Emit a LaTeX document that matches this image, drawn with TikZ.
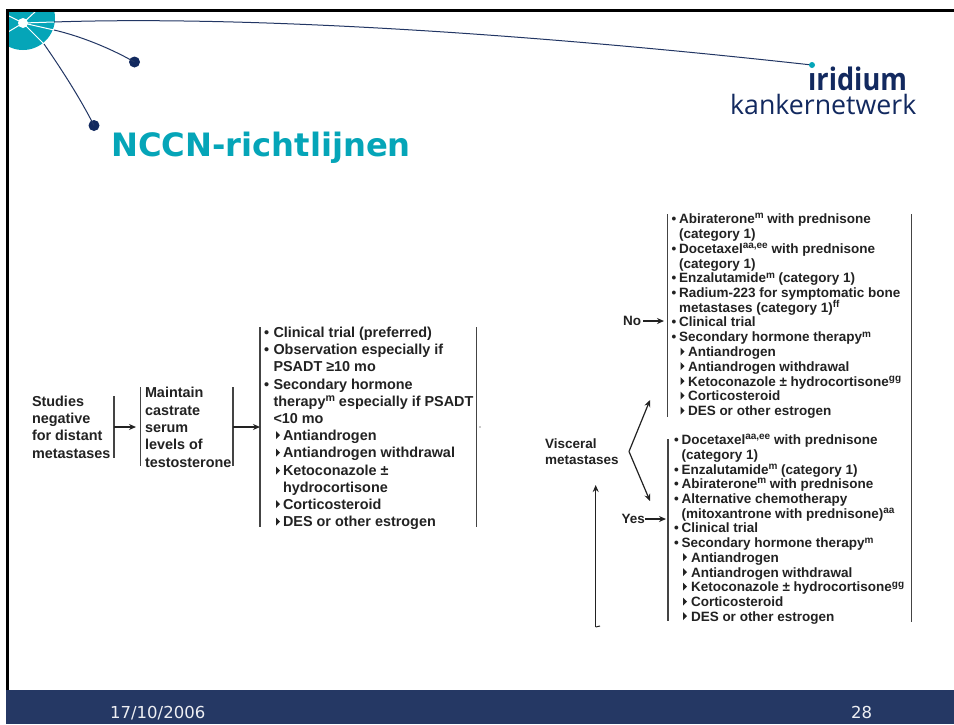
\documentclass[tikz,border=0pt]{standalone}
\usepackage{fontspec}
\setmainfont{Liberation Sans}
\newfontfamily\titlefont{DejaVu Sans}
\newfontfamily\logofont{Open Sans}
\usetikzlibrary{arrows.meta}
\definecolor{teal1}{HTML}{05A5B8}
\definecolor{navy1}{HTML}{12295F}
\definecolor{foot}{HTML}{253864}
\definecolor{ink}{HTML}{222222}
\definecolor{bar}{HTML}{444444}
\newcounter{tn}
\tikzset{
  lbl/.style={anchor=base west,inner sep=0pt,outer sep=0pt,text=ink,font=\fontsize{13.5}{15}\selectfont\bfseries},
  lblbig/.style={lbl,font=\fontsize{14.4}{16}\selectfont\bfseries},
  barline/.style={draw=bar,line width=1.5pt},
  flow/.style={draw=ink,line width=1.2pt,-{Stealth[length=7pt,width=6pt]}},
  curve/.style={draw=navy1!85!gray,line width=1pt},
  spoke/.style={draw=white,line width=1pt},
  foottext/.style={anchor=base west,inner sep=0pt,text=white!92!foot,font=\titlefont\fontsize{16.5}{18}\selectfont}
}
\newcommand{\tl}[3]{\stepcounter{tn}\node[lbl] (t\arabic{tn}) at (#1,#2) {#3};}
\newcommand{\tb}[3]{\stepcounter{tn}\node[lblbig] (t\arabic{tn}) at (#1,#2) {#3};}
% bullet item: bullet x, text x, baseline, text
\newcommand{\bi}[4]{\tl{#1}{#3}{•}\tl{#2}{#3}{#4}}
\newcommand{\bb}[4]{\tb{#1}{#3}{•}\tb{#2}{#3}{#4}}
% sub item: triangle x, text x, baseline, text
\newcommand{\si}[4]{\fill[ink] (#1,#3-9) -- (#1+4,#3-5) -- (#1,#3-1) -- cycle;\tl{#2}{#3}{#4}}
\newcommand{\sib}[4]{\fill[ink] (#1,#3-9) -- (#1+4,#3-5) -- (#1,#3-1) -- cycle;\tb{#2}{#3}{#4}}
\newcommand{\sps}[1]{\raisebox{0.32em}{\scalebox{.74}{#1}}}
\begin{document}
\begin{tikzpicture}[x=1pt,y=-1pt]
\useasboundingbox (0,0) rectangle (954,724);
\fill[white] (0,0) rectangle (954,724);
% footer
\fill[foot] (6,690) rectangle (954,724);
\node[foottext] (date) at (110,718) {17/10/2006};
\node[foottext] (page) at (851,718) {28};
% decoration
\begin{scope}
\clip (7,10) rectangle (60,60);
\fill[teal1] (23,18) circle (32);
\foreach \a/\b in {54/22,54/30,44/44,8/32,36/11,7/15}{\draw[spoke] (23,23) -- (\a,\b);}
\fill[white] (23,23) circle (5);
\end{scope}
\coordinate (c1) at (54,22);
\coordinate (c2) at (54,30);
\coordinate (c3) at (44,44);
\fill[navy1] (134.5,62) circle (5.5) coordinate (d2);
\fill[navy1] (94,125.5) circle (5.5) coordinate (d3);
\draw[curve] (c1) .. controls (200,17) and (450,25) .. (812,65) coordinate (d1);
\draw[curve] (c2) .. controls (80,36) and (110,48) .. (d2);
\draw[curve] (c3) .. controls (62,70) and (80,98) .. (d3);
\fill[teal1] (d1) circle (3);
% frame
\draw[black,line width=3pt] (7.5,690) -- (7.5,10.5) -- (954,10.5);
% title
\node[anchor=base west,inner sep=0pt,text=teal1,font=\titlefont\fontsize{32.2}{34}\selectfont\bfseries] (title) at (111,156.5) {NCCN-richtlijnen};
% logo
\node[anchor=base west,inner sep=0pt,text=navy1,font=\logofont\fontsize{31}{32}\selectfont\bfseries] (logoa) at (808,90) {\scalebox{.875}[1]{ıridium}};
\node[anchor=base west,inner sep=0pt,text=navy1,font=\logofont\fontsize{26.7}{30}\selectfont] (logob) at (730,114) {kankernetwerk};
% left flow
\tb{32}{406}{Studies}
\tb{32}{423}{negative}
\tb{32}{440.5}{for distant}
\tb{32}{458}{metastases}
\tb{145}{397}{Maintain}
\tb{145}{415}{castrate}
\tb{145}{432.5}{serum}
\tb{145}{449.5}{levels of}
\tb{145}{467}{testosterone}
\coordinate (b1t) at (114,396); \coordinate (b1b) at (114,458);
\coordinate (b2t) at (140.5,387); \coordinate (b2b) at (140.5,466);
\coordinate (b3t) at (233,387); \coordinate (b3b) at (233,466);
\coordinate (b4t) at (260,327); \coordinate (b4b) at (260,527);
\coordinate (b5t) at (476.5,327); \coordinate (b5b) at (476.5,527);
\foreach \n in {1,...,5}{\draw[barline] (b\n t) -- (b\n b);}
\coordinate (a1s) at (114,427); \coordinate (a1e) at (136,427);
\coordinate (a2s) at (233,427); \coordinate (a2e) at (260,427);
\draw[flow] (a1s) -- (a1e);
\draw[flow] (a2s) -- (a2e);
\fill[ink] (480,427) circle (0.7);
\bb{264}{273.5}{337}{Clinical trial (preferred)}
\bb{264}{273.5}{354}{Observation especially if}
\tb{273.5}{371.5}{PSADT ≥10 mo}
\bb{264}{273.5}{389}{Secondary hormone}
\tb{273.5}{406}{therapy\sps{m} especially if PSADT}
\tb{273.5}{423}{<10 mo}
\sib{276}{283}{440}{Antiandrogen}
\sib{276}{283}{457.5}{Antiandrogen withdrawal}
\sib{276}{283}{475.5}{Ketoconazole ±}
\tb{283}{492}{hydrocortisone}
\sib{276}{283}{509}{Corticosteroid}
\sib{276}{283}{526.5}{DES or other estrogen}
% right side
\coordinate (r1t) at (667.7,214); \coordinate (r1b) at (667.7,417);
\coordinate (r2t) at (668,439); \coordinate (r2b) at (668,621);
\coordinate (r3t) at (911.7,214); \coordinate (r3b) at (911.7,622);
\foreach \n in {1,2,3}{\draw[barline] (r\n t) -- (r\n b);}
\bi{671.5}{679}{223}{Abiraterone\sps{m} with prednisone}
\tl{679}{238}{(category 1)}
\bi{671.5}{679}{253}{Docetaxel\sps{aa,ee} with prednisone}
\tl{679}{268}{(category 1)}
\bi{671.5}{679}{282.5}{Enzalutamide\sps{m} (category 1)}
\bi{671.5}{679}{297}{Radium-223 for symptomatic bone}
\tl{679}{312}{metastases (category 1)\sps{ff}}
\bi{671.5}{679}{326.5}{Clinical trial}
\bi{671.5}{679}{341.5}{Secondary hormone therapy\sps{m}}
\si{680.5}{688}{356.5}{Antiandrogen}
\si{680.5}{688}{371}{Antiandrogen withdrawal}
\si{680.5}{688}{386}{Ketoconazole ± hydrocortisone\sps{gg}}
\si{680.5}{688}{400.5}{Corticosteroid}
\si{680.5}{688}{415.5}{DES or other estrogen}
\bi{674}{681.5}{444}{Docetaxel\sps{aa,ee} with prednisone}
\tl{681.5}{459}{(category 1)}
\bi{674}{681.5}{474}{Enzalutamide\sps{m} (category 1)}
\bi{674}{681.5}{488}{Abiraterone\sps{m} with prednisone}
\bi{674}{681.5}{503}{Alternative chemotherapy}
\tl{681.5}{518}{(mitoxantrone with prednisone)\sps{aa}}
\bi{674}{681.5}{532.5}{Clinical trial}
\bi{674}{681.5}{547.5}{Secondary hormone therapy\sps{m}}
\si{683}{691}{562}{Antiandrogen}
\si{683}{691}{577}{Antiandrogen withdrawal}
\si{683}{691}{591.5}{Ketoconazole ± hydrocortisone\sps{gg}}
\si{683}{691}{606.5}{Corticosteroid}
\si{683}{691}{621}{DES or other estrogen}
\node[lbl] (no) at (623,325) {No};
\node[lbl] (yes) at (621.5,523) {Yes};
\node[lbl] (vis1) at (545,448) {Visceral};
\node[lbl] (vis2) at (545,464) {metastases};
\coordinate (nos) at (643,321); \coordinate (noe) at (664,321);
\coordinate (yess) at (645,519); \coordinate (yese) at (666,519);
\coordinate (fork) at (629,451.5);
\coordinate (forku) at (650,400); \coordinate (forkd) at (650,501);
\coordinate (ups) at (595.7,627); \coordinate (upe) at (595.7,485);
\coordinate (tick) at (600,626);
\draw[flow] (nos) -- (noe);
\draw[flow] (yess) -- (yese);
\draw[flow] (fork) -- (forku);
\draw[flow] (fork) -- (forkd);
\draw[flow] (ups) -- (upe);
\draw[ink,line width=1pt] (ups) -- (tick);
\end{tikzpicture}
\end{document}
